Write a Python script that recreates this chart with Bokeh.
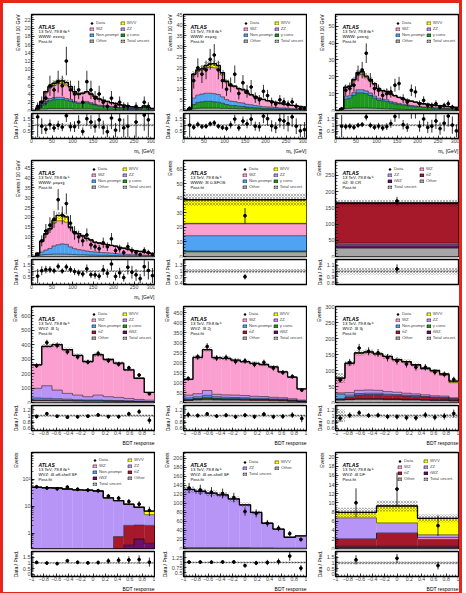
import numpy as np
from bokeh.plotting import figure
from bokeh.layouts import column, row
from bokeh.models import (Label, Legend, LegendItem, FixedTicker, SingleIntervalTicker,
                          Range1d, Span, Title)
from bokeh.embed import file_html
from bokeh.resources import INLINE

FONT = "Liberation Sans"

COLORS = {
    "WZ": "#fa9fd0", "WVV": "#ffff00", "ZZ": "#b695f7", "Non-prompt": "#4fa3f2",
    "γ conv.": "#1f961f", "Other": "#a6a6a6", "tt̄Z": "#a5192b", "tWZ": "#6a0f68",
}

# ---------------- bins ----------------
MJJ_EDGES = list(range(0, 310, 10))
ONE_BIN = [0, 1]
BDT12 = list(np.linspace(-1, 1, 13))
BDT13 = list(np.linspace(-1, 1, 14))
BDT11 = list(np.linspace(-1, 1, 12))
BDT3 = list(np.linspace(-1, 1, 4))

# ---------------- WWW e±e±jj ----------------
P1_other = [0, 0.1, 0.4, 0.4, 0.5, 0.5, 0.5, 0.5, 0.5, 0.5, 0.4, 0.4, 0.4, 0.4, 0.4, 0.3, 0.3, 0.3, 0.3, 0.3, 0.2, 0.2, 0.2, 0.2, 0.2, 0.2, 0.1, 0.1, 0.1, 0.1]
P1_gconv = [0, 0.2, 0.8, 1.4, 1.9, 2.1, 2.2, 2.2, 2.0, 1.8, 1.5, 1.3, 1.3, 1.5, 1.2, 1.0, 0.8, 0.7, 0.6, 0.5, 0.5, 0.4, 0.4, 0.3, 0.3, 0.3, 0.2, 0.6, 0.2, 0.2]
P1_np = [0, 0.1, 0.3, 0.4, 0.5, 0.5, 0.5, 0.5, 0.4, 0.4, 0.3, 0.3, 0.3, 0.3, 0.3, 0.2, 0.2, 0.2, 0.2, 0.2, 0.1, 0.1, 0.1, 0.1, 0.1, 0.1, 0.1, 0.1, 0.1, 0.1]
P1_wz = [0, 0.2, 0.6, 2.1, 2.6, 3.0, 3.3, 3.4, 3.3, 2.8, 2.2, 1.9, 2.1, 2.3, 2.0, 1.8, 1.4, 1.2, 1.0, 0.8, 0.8, 0.6, 0.5, 0.4, 0.3, 0.2, 0.3, 0.3, 0.3, 0.1]
P1_wvv = [0, 0, 0.1, 0.3, 0.3, 0.5, 0.6, 0.6, 0.6, 0.3, 0.2, 0.1, 0.1, 0.1, 0.1, 0.1, 0.1, 0.1, 0.1, 0.1, 0.1, 0.1, 0.1, 0.1, 0, 0, 0, 0, 0, 0]
P1_data = [0, 1, 2, 3, 6, 5, 7, 6, 12, 5, 4, 5, 2, 7, 5, 3, 4, 2, 1, 3, 1, 2, 1, 1, 0, 1, 0, 2, 1, 0]

# ---------------- WWW e±μ±jj ----------------
P2_other = [0, 0.2, 0.8, 1.0, 1.1, 1.1, 1.1, 1.1, 1.1, 1.0, 1.0, 0.9, 0.9, 0.8, 0.8, 0.7, 0.7, 0.6, 0.6, 0.5, 0.5, 0.5, 0.4, 0.4, 0.4, 0.3, 0.3, 0.3, 0.3, 0.2]
P2_gconv = [0, 0.2, 2.0, 2.8, 3.0, 3.2, 3.2, 3.0, 2.8, 2.4, 1.8, 1.5, 1.4, 1.2, 1.1, 0.9, 0.8, 0.7, 0.6, 0.5, 0.5, 0.4, 0.4, 0.3, 0.3, 0.3, 0.2, 0.2, 0.2, 0.2]
P2_np = [0, 0.2, 3.0, 3.4, 3.6, 3.8, 3.8, 3.8, 3.6, 3.0, 2.3, 2.0, 1.9, 1.7, 1.6, 1.3, 1.2, 1.0, 0.9, 0.8, 0.7, 0.7, 0.6, 0.5, 0.5, 0.4, 0.4, 0.3, 0.3, 0.3]
P2_wz = [0, 0.4, 10.8, 11.3, 11.3, 11.9, 12.2, 12.1, 11.5, 10.3, 8.1, 7.1, 6.9, 6.3, 6.0, 5.1, 4.5, 4.1, 3.6, 3.3, 2.8, 2.6, 2.3, 2.2, 1.8, 1.7, 1.5, 1.4, 1.1, 0.9]
P2_wvv = [0, 0, 0.4, 0.5, 0.5, 1.0, 1.5, 2.0, 2.0, 1.0, 0.5, 0.3, 0.3, 0.3, 0.3, 0.2, 0.2, 0.2, 0.1, 0.1, 0.1, 0.1, 0.1, 0.1, 0, 0, 0, 0, 0, 0]
P2_data = [0, 1, 14, 20, 17, 19, 24, 26, 19, 14, 10, 12, 17, 8, 13, 9, 11, 6, 5, 9, 7, 4, 3, 5, 4, 3, 4, 2, 1, 1]

# ---------------- WWW μ±e±jj ----------------
P3_other = [0, 0.3, 1.2, 1.3, 1.5, 1.5, 1.5, 1.5, 1.4, 1.3, 1.2, 1.1, 1.0, 0.9, 0.8, 0.7, 0.7, 0.6, 0.6, 0.5, 0.5, 0.4, 0.4, 0.4, 0.3, 0.3, 0.3, 0.3, 0.2, 0.2]
P3_gconv = [0, 0.4, 5.5, 6.0, 7.5, 9.0, 9.0, 8.5, 7.5, 6.0, 5.0, 4.6, 4.4, 3.6, 3.2, 2.8, 2.4, 2.2, 1.9, 1.7, 1.5, 1.3, 1.2, 1.1, 1.0, 0.9, 0.8, 0.7, 0.6, 0.5]
P3_np = [0, 0.1, 1.5, 1.5, 1.6, 1.8, 1.8, 1.6, 1.5, 1.3, 1.1, 1.0, 1.0, 0.9, 0.8, 0.7, 0.6, 0.6, 0.5, 0.5, 0.4, 0.4, 0.4, 0.3, 0.3, 0.3, 0.3, 0.2, 0.2, 0.2]
P3_wz = [0, 0.3, 5.4, 5.4, 7.3, 8.6, 9.2, 7.8, 7.0, 6.8, 5.6, 5.0, 4.9, 4.3, 3.9, 3.5, 3.0, 2.7, 2.5, 2.2, 1.9, 1.8, 1.6, 1.5, 1.4, 1.3, 1.2, 1.1, 1.0, 1.0]
P3_wvv = [0, 0, 0.2, 0.2, 0.5, 1.5, 1.5, 1.0, 1.0, 0.5, 0.2, 0.1, 0.1, 0.1, 0.1, 0.1, 0.1, 0.1, 0.1, 0.1, 0.1, 0.1, 0.1, 0, 0, 0, 0, 0, 0, 0]
P3_data = [0, 1, 12, 13, 15, 22, 24, 34, 18, 13, 12, 9, 10, 11, 15, 16, 7, 5, 12, 11, 4, 6, 3, 3, 4, 2, 3, 4, 2, 1]

# ---------------- WWW μ±μ±jj ----------------
P4_other = [0, 0.3, 0.8, 1.0, 1.1, 1.2, 1.2, 1.2, 1.2, 1.1, 1.0, 0.9, 0.9, 0.8, 0.7, 0.7, 0.6, 0.6, 0.6, 0.5, 0.5, 0.4, 0.4, 0.4, 0.3, 0.3, 0.3, 0.3, 0.2, 0.2]
P4_np = [0, 0.3, 1.5, 2.3, 3.0, 4.2, 4.8, 5.2, 5.0, 3.8, 3.0, 2.6, 2.3, 2.0, 1.8, 1.6, 1.5, 1.4, 1.3, 1.2, 1.0, 0.9, 0.8, 0.7, 0.6, 0.6, 0.5, 0.4, 0.4, 0.3]
P4_wz = [0, 1.1, 5.3, 8.0, 9.6, 11.6, 12.2, 11.8, 11.3, 9.6, 8.3, 8.0, 7.2, 6.4, 5.9, 4.9, 4.7, 4.3, 4.1, 3.9, 3.7, 3.3, 3.0, 2.6, 2.3, 2.0, 1.8, 1.5, 1.3, 1.1]
P4_wvv = [0, 0, 0.2, 0.3, 0.5, 1.5, 2.8, 2.8, 2.7, 0.5, 0.2, 0.2, 0.1, 0.1, 0.1, 0.1, 0.1, 0.1, 0.1, 0.1, 0.1, 0.1, 0.1, 0.1, 0.1, 0, 0, 0, 0, 0]
P4_data = [0, 1, 8, 13, 16, 19, 29, 21, 27, 17, 12, 10, 8, 11, 6, 5, 4, 7, 5, 9, 3, 4, 2, 5, 3, 2, 1, 3, 2, 1]

# ---------------- WWW 3l 0-SFOS (one bin) ----------------
P5_other = [3.2]
P5_gconv = [0.6]
P5_np = [10.5]
P5_wz = [8.2]
P5_zz = [0.3]
P5_wvv = [16.2]
P5_data = [28]

# ---------------- ttZ CR (one bin) ----------------
P6_other = [26]
P6_twz = [9]
P6_zz = [2]
P6_wz = [4]
P6_ttz = [124]
P6_data = [171]

# ---------------- WVZ 3l 1j ----------------
P7_other = [14, 14, 13, 12, 11, 10, 10, 9, 8, 7, 6, 4]
P7_np = [14, 12, 10, 8, 6, 5, 5, 4, 4, 3, 3, 2]
P7_ttz = [3, 3, 3, 3, 2, 2, 2, 2, 2, 2, 1, 1]
P7_zz = [67, 87, 60, 40, 32, 23, 34, 25, 21, 16, 11, 9]
P7_wz = [163, 273, 315, 303, 275, 244, 280, 258, 238, 198, 147, 54]
P7_data = [255, 415, 395, 350, 315, 280, 340, 290, 265, 240, 190, 60]

# ---------------- WVZ 3l 2j ----------------
P8_other = [10, 13, 14, 13, 12, 12, 11, 10, 10, 9, 8, 6, 4]
P8_ttz = [3, 4, 6, 5, 5, 5, 5, 5, 5, 4, 4, 3, 2]
P8_gconv = [2, 3, 6, 3, 2, 2, 2, 1, 1, 1, 1, 1, 0]
P8_np = [8, 8, 10, 8, 7, 6, 6, 5, 5, 4, 4, 3, 2]
P8_zz = [14, 16, 24, 12, 12, 12, 11, 10, 9, 8, 7, 6, 4]
P8_wz = [79, 182, 204, 183, 183, 175, 169, 165, 160, 152, 129, 108, 56]
P8_data = [120, 228, 280, 222, 225, 205, 208, 190, 200, 172, 150, 130, 62]

# ---------------- WVZ 3l 3j ----------------
P9_other = [8, 9, 10, 10, 10, 9, 9, 8, 8, 7, 6, 6, 5]
P9_twz = [1, 1, 2, 2, 2, 2, 2, 2, 2, 2, 2, 2, 1]
P9_ttz = [3, 8, 12, 13, 13, 12, 11, 10, 9, 8, 7, 6, 5]
P9_np = [14, 5, 4, 4, 4, 3, 3, 3, 3, 2, 2, 2, 1]
P9_zz = [4, 8, 10, 10, 9, 8, 7, 6, 5, 5, 4, 4, 3]
P9_wz = [46, 91, 116, 118, 113, 109, 101, 97, 89, 80, 75, 65, 47]
P9_wvv = [0, 1, 1, 1, 1, 1, 1, 2, 2, 3, 4, 4, 5]
P9_data = [70, 125, 170, 160, 155, 140, 130, 120, 110, 110, 95, 88, 72]
P9_unc = [0.2, 0.06, 0.05, 0.05, 0.05, 0.05, 0.05, 0.05, 0.05, 0.05, 0.05, 0.06, 0.07]

# ---------------- WVZ 4l off-shell SF (log) ----------------
P10_twz = [0, 0, 0, 0, 0, 0, 0, 0, 0.05, 0.37, 0.61, 0.42]
P10_ttz = [0, 0, 0, 0, 0, 0, 0, 0, 0.7, 1.58, 1.39, 1.53]
P10_zz = [51, 49, 48, 44, 41, 40, 37, 20.6, 15.5, 10.0, 7.0, 2.95]
P10_wvv = [0, 0, 0, 0, 0, 0, 0, 0, 0, 0, 0.3, 1.7]
P10_data = [53, 48, 45, 52, 43, 40, 38, 24, 20, 15, 12, 7]

# ---------------- WVZ 4l on-shell SF ----------------
P11_other = [2, 2, 2, 2, 2, 2, 1.5, 1.5, 1, 1, 1]
P11_zz = [129, 125, 121, 117, 108, 95, 78.5, 54.5, 42, 24, 27]
P11_data = [134, 130, 125, 122, 113, 82, 78, 56, 45, 33, 20]

# ---------------- WVZ 4l DF ----------------
P12_other = [0.1, 0.1, 0.1]
P12_twz = [0.4, 0.4, 0.4]
P12_ttz = [1.5, 2.8, 1.5]
P12_wz = [0.1, 0.1, 0.4]
P12_zz = [4.6, 2.2, 0.6]
P12_wvv = [1.2, 3.7, 3.6]
P12_data = [10, 13, 5]

LEG_WWW = ["Data", "WVV", "WZ", "ZZ", "Non-prompt", "γ conv.", "Other", "Total uncert."]
LEG_CR = ["Data", "WZ", "ZZ", "tt̄Z", "tWZ", "Other", "Total uncert."]
LEG_3L = ["Data", "WVV", "WZ", "ZZ", "Non-prompt", "γ conv.", "tt̄Z", "tWZ", "Other", "Total uncert."]
LEG_OFF = ["Data", "WVV", "WZ", "ZZ", "Non-prompt", "tt̄Z", "tWZ", "Other", "Total uncert."]
LEG_ON = ["Data", "WVV", "ZZ", "Other", "Total uncert."]
LEG_DF = ["Data", "WVV", "WZ", "ZZ", "tt̄Z", "tWZ", "Other", "Total uncert."]

BDT_TICKS = [-1, -0.8, -0.6, -0.4, -0.2, 0, 0.2, 0.4, 0.6, 0.8, 1]
MJJ_LABEL = "mⱼⱼ [GeV]"

CFG = [
    dict(edges=MJJ_EDGES, comps=[("Other", P1_other), ("γ conv.", P1_gconv), ("Non-prompt", P1_np), ("WZ", P1_wz), ("WVV", P1_wvv)],
         data=P1_data, unc=0.10, xr=(0, 300), yr=(0, 23.3), ytick=2, yminor=4, ylabel="Events / 10 GeV",
         region="WWW: e±e±jj", legend=LEG_WWW, lx=58, lw=22, rr=(-0.1, 1.95), rticks=[0.5, 1, 1.5], xlabel=MJJ_LABEL, mjj=True),
    dict(edges=MJJ_EDGES, comps=[("Other", P2_other), ("γ conv.", P2_gconv), ("Non-prompt", P2_np), ("WZ", P2_wz), ("WVV", P2_wvv)],
         data=P2_data, unc=0.08, xr=(0, 300), yr=(0, 45), ytick=5, yminor=5, ylabel="Events / 10 GeV",
         region="WWW: e±μ±jj", legend=LEG_WWW, lx=60, lw=22, rr=(-0.1, 1.95), rticks=[0.5, 1, 1.5], xlabel=MJJ_LABEL, mjj=True),
    dict(edges=MJJ_EDGES, comps=[("Other", P3_other), ("γ conv.", P3_gconv), ("Non-prompt", P3_np), ("WZ", P3_wz), ("WVV", P3_wvv)],
         data=P3_data, unc=0.09, xr=(0, 300), yr=(0, 57), ytick=10, yminor=5, ylabel="Events / 10 GeV",
         region="WWW: μ±e±jj", legend=LEG_WWW, lx=60, lw=22, rr=(-0.1, 1.95), rticks=[0.5, 1, 1.5], xlabel=MJJ_LABEL, mjj=True),
    dict(edges=MJJ_EDGES, comps=[("Other", P4_other), ("Non-prompt", P4_np), ("WZ", P4_wz), ("WVV", P4_wvv)],
         data=P4_data, unc=0.08, xr=(0, 300), yr=(0, 49), ytick=5, yminor=5, ylabel="Events / 10 GeV",
         region="WWW: μ±μ±jj", legend=LEG_WWW, lx=60, lw=22, rr=(-0.1, 1.95), rticks=[0.5, 1, 1.5], xlabel=MJJ_LABEL, mjj=True),
    dict(edges=ONE_BIN, comps=[("Other", P5_other), ("γ conv.", P5_gconv), ("Non-prompt", P5_np), ("WZ", P5_wz), ("ZZ", P5_zz), ("WVV", P5_wvv)],
         data=P5_data, unc=0.11, xr=(0, 1), yr=(0, 66), ytick=10, yminor=5, ylabel="Events",
         region="WWW: 3ℓ  0-SFOS", legend=LEG_WWW, lx=59, lw=22, rr=(0.33, 1.58), rticks=[0.4, 0.7, 1, 1.3], xlabel=None),
    dict(edges=ONE_BIN, comps=[("Other", P6_other), ("tWZ", P6_twz), ("ZZ", P6_zz), ("WZ", P6_wz), ("tt̄Z", P6_ttz)],
         data=P6_data, unc=0.06, xr=(0, 1), yr=(0, 296), ytick=50, yminor=5, ylabel="Events",
         region="tt̄Z: 3ℓ   CR", legend=LEG_CR, lx=52, lw=24, rr=(0.77, 1.2), rticks=[0.8, 0.9, 1, 1.1], xlabel=None),
    dict(edges=BDT12, comps=[("Other", P7_other), ("tt̄Z", P7_ttz), ("Non-prompt", P7_np), ("ZZ", P7_zz), ("WZ", P7_wz)],
         data=P7_data, unc=0.04, xr=(-1, 1), yr=(0, 665), ytick=100, yminor=5, ylabel="Events",
         region="WVZ: 3ℓ  1j", legend=LEG_3L, lx=60, lw=22, rr=(0.53, 1.33), rticks=[0.6, 0.8, 1, 1.2], xlabel="BDT response"),
    dict(edges=BDT13, comps=[("Other", P8_other), ("tt̄Z", P8_ttz), ("γ conv.", P8_gconv), ("Non-prompt", P8_np), ("ZZ", P8_zz), ("WZ", P8_wz)],
         data=P8_data, unc=0.045, xr=(-1, 1), yr=(0, 480), ytick=50, yminor=5, ylabel="Events",
         region="WVZ: 3ℓ  2j", legend=LEG_3L, lx=59, lw=22, rr=(0.53, 1.33), rticks=[0.6, 0.8, 1, 1.2], xlabel="BDT response"),
    dict(edges=BDT13, comps=[("Other", P9_other), ("tWZ", P9_twz), ("tt̄Z", P9_ttz), ("Non-prompt", P9_np), ("ZZ", P9_zz), ("WZ", P9_wz), ("WVV", P9_wvv)],
         data=P9_data, unc=P9_unc, xr=(-1, 1), yr=(0, 300), ytick=50, yminor=5, ylabel="Events",
         region="WVZ: 3ℓ  3j", legend=LEG_3L, lx=60, lw=22, rr=(0.53, 1.33), rticks=[0.6, 0.8, 1, 1.2], xlabel="BDT response"),
    dict(edges=BDT12, comps=[("tWZ", P10_twz), ("tt̄Z", P10_ttz), ("ZZ", P10_zz), ("WVV", P10_wvv)],
         data=P10_data, unc=0.06, xr=(-1, 1), yr=(0.27, 1000), log=True, ylabel="Events",
         region="WVZ: 4ℓ  off-shell SF", legend=LEG_OFF, lx=61, lw=27, rr=(-0.2, 2.0), rticks=[0, 0.5, 1, 1.5], xlabel="BDT response"),
    dict(edges=BDT11, comps=[("Other", P11_other), ("ZZ", P11_zz)],
         data=P11_data, unc=0.05, xr=(-1, 1), yr=(0, 213), ytick=20, yminor=4, ylabel="Events",
         region="WVZ: 4ℓ  on-shell SF", legend=LEG_ON, lx=59, lw=24, rr=(0.3, 1.55), rticks=[0.5, 0.75, 1, 1.25], xlabel="BDT response"),
    dict(edges=BDT3, comps=[("Other", P12_other), ("tWZ", P12_twz), ("tt̄Z", P12_ttz), ("WZ", P12_wz), ("ZZ", P12_zz), ("WVV", P12_wvv)],
         data=P12_data, unc=0.13, xr=(-1, 1), yr=(0, 21), ytick=2, yminor=4, ylabel="Events",
         region="WVZ: 4ℓ  DF", legend=LEG_DF, lx=62, lw=18, rr=(-0.2, 2.0), rticks=[0, 0.5, 1, 1.5], xlabel="BDT response"),
]

FW, FH, RH = 123, 96, 25
LB = 28
NAN = float("nan")


def style_axis(ax, size="5.5px", standoff=1):
    ax.major_label_text_font = FONT
    ax.major_label_text_font_size = size
    ax.major_tick_in = 3
    ax.major_tick_out = 0
    ax.minor_tick_in = 2
    ax.minor_tick_out = 0
    ax.major_label_standoff = standoff
    ax.axis_line_color = "black"
    ax.axis_line_width = 1
    ax.major_tick_line_width = 0.7
    ax.minor_tick_line_width = 0.6


def base_fig(**kw):
    f = figure(output_backend="svg", toolbar_location=None, **kw)
    f.xgrid.visible = False
    f.ygrid.visible = False
    f.outline_line_color = "black"
    f.outline_line_width = 1.3
    f.background_fill_color = "white"
    f.border_fill_color = "white"
    return f


def lbl(f, text, x, y, size="4.3px", style="normal"):
    f.add_layout(Label(x=x, y=y, x_units="screen", y_units="screen", text=text,
                       text_font=FONT, text_font_size=size, text_font_style=style,
                       text_align="left", text_baseline="top", text_color="black"))


def side_title(f, text, place, align, standoff=1):
    f.add_layout(Title(text=text, align=align, text_font=FONT, text_font_size="5px",
                       text_font_style="normal", text_color="black", standoff=standoff, offset=0), place)


def panel(cfg, first_row):
    edges = [float(e) for e in cfg["edges"]]
    n = len(edges) - 1
    left, right = edges[:-1], edges[1:]
    centers = [(a + b) / 2 for a, b in zip(left, right)]
    log = cfg.get("log", False)
    base = cfg["yr"][0] if log else 0.0

    p = base_fig(frame_width=FW, frame_height=FH, min_border_left=LB, min_border_right=1,
                 min_border_top=11 if first_row else 6, min_border_bottom=2,
                 x_range=Range1d(*cfg["xr"]), y_range=Range1d(*cfg["yr"]),
                 y_axis_type="log" if log else "linear", x_axis_location=None)
    style_axis(p.yaxis[0])
    if log:
        p.yaxis[0].major_label_overrides = {1: "1", 10: "10", 100: "10²", 1000: ""}
    else:
        p.yaxis[0].ticker = SingleIntervalTicker(interval=cfg["ytick"], num_minor_ticks=cfg["yminor"])

    cum = [0.0] * n
    tops = []
    for name, vals in cfg["comps"]:
        bot = [max(c, base) for c in cum]
        cum = [c + v for c, v in zip(cum, vals)]
        top = [max(c, base) for c in cum]
        p.quad(left=left, right=right, bottom=bot, top=top, fill_color=COLORS[name],
               line_color=COLORS[name], line_width=0.3)
        tops.append(top)
    for top in tops:
        p.step(x=edges, y=top + [top[-1]], mode="after", line_color="black", line_width=0.5)
    tot = cum
    unc = cfg["unc"] if isinstance(cfg["unc"], list) else [cfg["unc"]] * n
    lo = [max(t * (1 - u), base) for t, u in zip(tot, unc)]
    hi = [max(t * (1 + u), base) for t, u in zip(tot, unc)]
    p.quad(left=left, right=right, bottom=lo, top=hi, fill_alpha=0, line_alpha=0,
           hatch_pattern="x", hatch_color="black", hatch_alpha=0.6, hatch_scale=3, hatch_weight=0.5)
    p.step(x=edges, y=tot + [tot[-1]], mode="after", line_color="black", line_width=1.3)

    d = cfg["data"]
    idx = [i for i in range(n) if d[i] > 0]
    xs = [centers[i] for i in idx]
    ys = [float(d[i]) for i in idx]
    p.segment(x0=xs, y0=[max(y - y ** 0.5, base) for y in ys], x1=xs, y1=[y + y ** 0.5 for y in ys],
              line_color="black", line_width=0.8)
    p.scatter(x=xs, y=ys, size=2.8, color="black")

    rmap = {}
    rmap["Data"] = [p.scatter(x=[NAN], y=[NAN], marker="cross", size=5, line_color="black", line_width=0.8),
                    p.scatter(x=[NAN], y=[NAN], size=2.5, color="black")]
    rmap["Total uncert."] = [p.quad(left=[NAN], right=[NAN], top=[NAN], bottom=[NAN], fill_alpha=0,
                                    line_color="black", line_width=0.3, hatch_pattern="x",
                                    hatch_color="black", hatch_scale=2.5, hatch_weight=0.6)]
    for name, c in COLORS.items():
        rmap[name] = [p.quad(left=[NAN], right=[NAN], top=[NAN], bottom=[NAN], fill_color=c,
                             line_color="black", line_width=0.5)]
    items = [LegendItem(label=nm, renderers=rmap[nm]) for nm in cfg["legend"]]
    nrows = (len(items) + 1) // 2
    leg = Legend(items=items, location=(cfg["lx"], FH - 9 - 5 * nrows), orientation="horizontal", ncols=2,
                 label_text_font=FONT, label_text_font_size="4.3px", label_height=5, label_width=cfg["lw"],
                 glyph_width=5, glyph_height=4, label_standoff=2, spacing=1, padding=0, margin=0,
                 border_line_alpha=0, background_fill_alpha=0)
    p.add_layout(leg)

    lbl(p, "ATLAS", 7, FH - 9, size="5px", style="bold italic")
    lbl(p, "13 TeV, 79.8 fb⁻¹", 7, FH - 14.5)
    lbl(p, cfg["region"], 7, FH - 19.5)
    lbl(p, "Post-fit", 7, FH - 24.5)
    side_title(p, cfg["ylabel"], "left", "right")

    q = base_fig(frame_width=FW, frame_height=RH, min_border_left=LB, min_border_right=1,
                 min_border_top=1, min_border_bottom=15, x_range=p.x_range, y_range=Range1d(*cfg["rr"]))
    style_axis(q.yaxis[0])
    style_axis(q.xaxis[0], size="5.2px", standoff=0)
    step_minor = (cfg["rticks"][1] - cfg["rticks"][0]) / 5
    q.yaxis[0].ticker = FixedTicker(ticks=cfg["rticks"],
                                    minor_ticks=list(np.round(np.arange(-0.5, 2.5, step_minor), 4)))
    if cfg["xlabel"] is None:
        q.xaxis[0].ticker = FixedTicker(ticks=[])
    elif cfg.get("mjj"):
        q.xaxis[0].ticker = SingleIntervalTicker(interval=50, num_minor_ticks=5)
    else:
        q.xaxis[0].ticker = FixedTicker(ticks=BDT_TICKS, minor_ticks=list(np.round(np.arange(-1, 1.001, 0.05), 3)))

    ok = [i for i in range(n) if tot[i] > 0]
    q.quad(left=[left[i] for i in ok], right=[right[i] for i in ok], bottom=[1 - unc[i] for i in ok],
           top=[1 + unc[i] for i in ok], fill_alpha=0, line_alpha=0, hatch_pattern="x", hatch_color="black",
           hatch_alpha=0.6, hatch_scale=3, hatch_weight=0.5)
    q.add_layout(Span(location=1, dimension="width", line_color="black", line_width=0.7, line_dash="2 1"))
    ridx = [i for i in idx if tot[i] > 0]
    rx = [centers[i] for i in ridx]
    ry = [d[i] / tot[i] for i in ridx]
    re = [d[i] ** 0.5 / tot[i] for i in ridx]
    q.segment(x0=rx, y0=[a - b for a, b in zip(ry, re)], x1=rx, y1=[a + b for a, b in zip(ry, re)],
              line_color="black", line_width=0.8)
    q.scatter(x=rx, y=ry, size=2.8, color="black")

    side_title(q, "Data / Pred.", "left", "center")
    if cfg["xlabel"]:
        side_title(q, cfg["xlabel"], "below", "right", standoff=1)

    return column(p, q, spacing=0)


rows = []
for r in range(4):
    rows.append(row(*[panel(CFG[3 * r + c], r == 0) for c in range(3)], spacing=0))

layout = column(*rows, spacing=0,
                styles={"border": "3px solid #e4261c", "background-color": "white"})

open("out.html", "w").write(file_html(layout, INLINE))
